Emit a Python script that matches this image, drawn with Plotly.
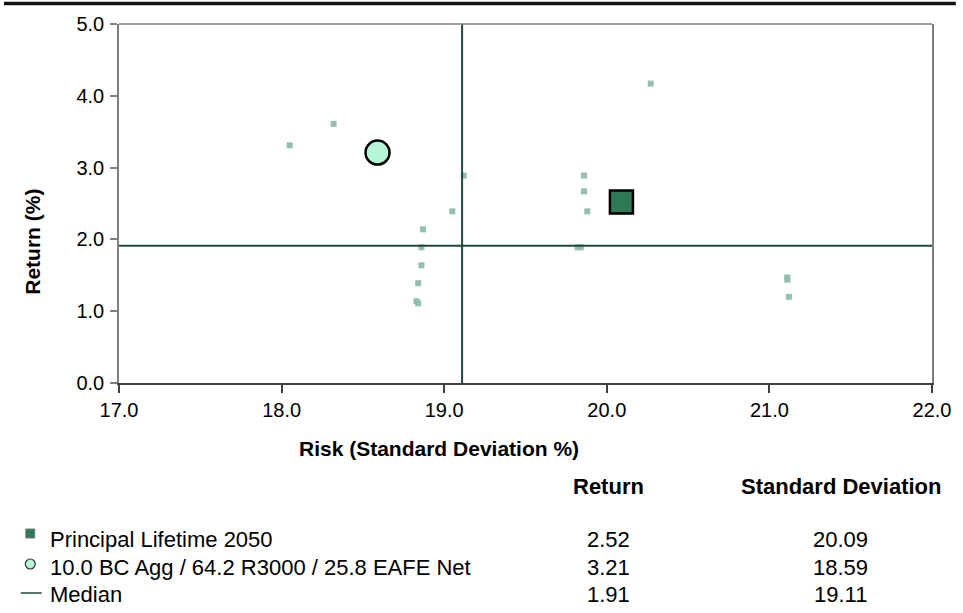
import plotly.graph_objects as go

# ---------------- data ----------------
x_ticks = [17.0, 18.0, 19.0, 20.0, 21.0, 22.0]
y_ticks = [0.0, 1.0, 2.0, 3.0, 4.0, 5.0]

peer_std = [18.32, 18.05, 19.12, 19.05, 18.87, 18.86, 18.86, 18.84, 18.83, 18.84,
            20.27, 19.86, 19.86, 19.88, 19.82, 19.84, 21.11, 21.11, 21.12]
peer_ret = [3.61, 3.31, 2.89, 2.39, 2.14, 1.89, 1.64, 1.39, 1.14, 1.11,
            4.17, 2.89, 2.67, 2.39, 1.89, 1.89, 1.47, 1.44, 1.20]

series_names = ["Principal Lifetime 2050",
                "10.0 BC Agg / 64.2 R3000 / 25.8 EAFE Net",
                "Median"]
series_return = [2.52, 3.21, 1.91]
series_std = [20.09, 18.59, 19.11]

x_title = "Risk (Standard Deviation %)"
y_title = "Return (%)"
col_headers = ["Return", "Standard Deviation"]

# ---------------- layout geometry ----------------
W, H = 963, 613
L, R, T, B = 119, 939, 24, 383
FONT = "Arial, Liberation Sans, sans-serif"
PEER = "#93bfae"
MED = "#1f4a3a"
FUND = "#2e7a58"
BENCH = "#b4f5d8"


def px(x):
    return (x - L) / (R - L)


def py(y):
    return (B - y) / (B - T)


fig = go.Figure()

fig.add_trace(go.Scatter(x=peer_std, y=peer_ret, mode="markers",
                         marker=dict(symbol="square", size=6, color=PEER),
                         showlegend=False, hoverinfo="x+y"))
fig.add_trace(go.Scatter(x=[series_std[2], series_std[2]], y=[y_ticks[0], y_ticks[-1]],
                         mode="lines", line=dict(color=MED, width=2),
                         showlegend=False))
fig.add_trace(go.Scatter(x=[x_ticks[0], x_ticks[-1]], y=[series_return[2], series_return[2]],
                         mode="lines", line=dict(color=MED, width=2),
                         showlegend=False))
fig.add_trace(go.Scatter(x=[series_std[0]], y=[series_return[0]], mode="markers",
                         marker=dict(symbol="square", size=23, color=FUND,
                                     line=dict(color="black", width=2.5)),
                         showlegend=False, name=series_names[0]))
fig.add_trace(go.Scatter(x=[series_std[1]], y=[series_return[1]], mode="markers",
                         marker=dict(symbol="circle", size=24, color=BENCH,
                                     line=dict(color="black", width=2.5)),
                         showlegend=False, name=series_names[1]))

shapes = []
# top thick rule
shapes.append(dict(type="line", xref="paper", yref="paper",
                   x0=px(3), x1=px(963), y0=py(3.5), y1=py(3.5),
                   line=dict(color="#111111", width=3.5)))
# top frame of plot
shapes.append(dict(type="line", xref="paper", yref="paper",
                   x0=0, x1=1, y0=1, y1=1, line=dict(color="#808080", width=1.5)))

annotations = []
# axis titles
annotations.append(dict(text=f"<b>{x_title}</b>", xref="paper", yref="paper",
                        x=px(442), y=py(449), xanchor="center", yanchor="middle",
                        showarrow=False, font=dict(size=21, family=FONT, color="black")))
annotations.append(dict(text=f"<b>{y_title}</b>", xref="paper", yref="paper",
                        x=px(32), y=py(242), xanchor="center", yanchor="middle",
                        textangle=-90, showarrow=False,
                        font=dict(size=21, family=FONT, color="black")))
# table headers
col_x = [613, 847]
for hx, txt in zip(col_x, col_headers):
    annotations.append(dict(text=f"<b>{txt}</b>", xref="paper", yref="paper",
                            x=px(hx), y=py(486), xanchor="center", yanchor="middle",
                            showarrow=False, font=dict(size=22, family=FONT, color="black")))

row_y = [539, 567, 594]
for i, name in enumerate(series_names):
    annotations.append(dict(text=name, xref="paper", yref="paper",
                            x=px(47), y=py(row_y[i]), xanchor="left", yanchor="middle",
                            showarrow=False, font=dict(size=22, family=FONT, color="black")))
    annotations.append(dict(text=f"{series_return[i]:.2f}", xref="paper", yref="paper",
                            x=px(col_x[0]), y=py(row_y[i]), xanchor="center", yanchor="middle",
                            showarrow=False, font=dict(size=22, family=FONT, color="black")))
    annotations.append(dict(text=f"{series_std[i]:.2f}", xref="paper", yref="paper",
                            x=px(col_x[1]), y=py(row_y[i]), xanchor="center", yanchor="middle",
                            showarrow=False, font=dict(size=22, family=FONT, color="black")))

# legend symbols
shapes.append(dict(type="rect", xref="paper", yref="paper",
                   x0=px(25), x1=px(34), y0=py(row_y[0] - 1), y1=py(row_y[0] - 10),
                   fillcolor=FUND, line=dict(color="#7a7a7a", width=1)))
shapes.append(dict(type="circle", xref="paper", yref="paper",
                   x0=px(24.5), x1=px(34.5), y0=py(row_y[1] + 2), y1=py(row_y[1] - 8),
                   fillcolor=BENCH, line=dict(color="#333333", width=1.2)))
shapes.append(dict(type="line", xref="paper", yref="paper",
                   x0=px(20), x1=px(41), y0=py(row_y[2] - 1), y1=py(row_y[2] - 1),
                   line=dict(color=MED, width=1.5)))

fig.update_layout(
    width=W, height=H,
    margin=dict(l=L, r=W - R, t=T, b=H - B, pad=0),
    paper_bgcolor="white", plot_bgcolor="white",
    font=dict(family=FONT, size=20, color="black"),
    showlegend=False,
    shapes=shapes,
    annotations=annotations,
    xaxis=dict(range=[x_ticks[0], x_ticks[-1]], tickvals=x_ticks,
               ticktext=[f"{v:.1f}" for v in x_ticks],
               showline=True, linecolor="#404040", linewidth=1.5,
               ticks="outside", ticklen=8, tickcolor="#404040", tickwidth=1.5,
               showgrid=False, zeroline=False, tickfont=dict(size=20)),
    yaxis=dict(range=[y_ticks[0], y_ticks[-1]], tickvals=y_ticks,
               ticktext=[f"{v:.1f}" for v in y_ticks],
               showline=True, linecolor="#808080", linewidth=1.5, mirror=True,
               ticks="outside", ticklen=7, tickcolor="#808080", tickwidth=1.5,
               ticklabelstandoff=2,
               showgrid=False, zeroline=False, tickfont=dict(size=20)),
)

fig.write_html("out.html", config={"displayModeBar": False},
               post_script="document.body.style.margin='0px';")
